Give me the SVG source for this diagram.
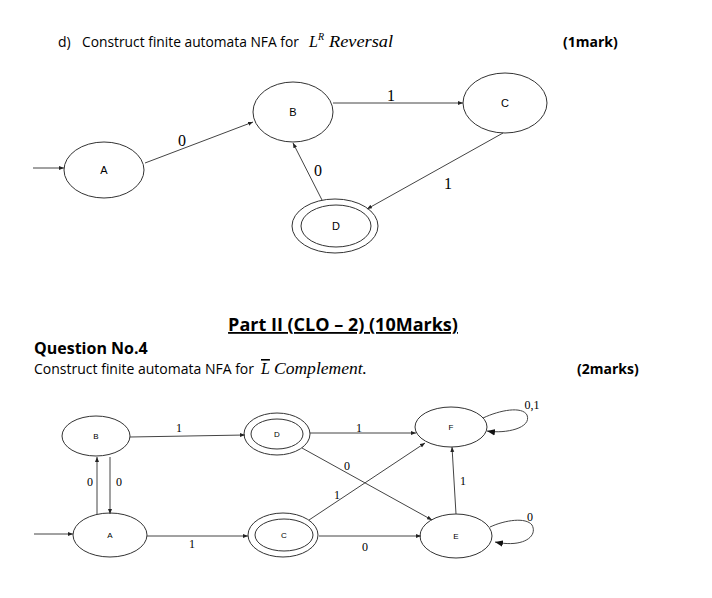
<svg xmlns="http://www.w3.org/2000/svg" width="712" height="598" viewBox="0 0 712 598">
<style>
.st{fill:none;stroke:#333;stroke-width:1}
.ln{fill:none;stroke:#444;stroke-width:1}
.t{font-family:"Open Sans","Liberation Sans",sans-serif;fill:#000}
.b{font-weight:bold}
.m{font-family:"Liberation Serif",serif;font-style:italic;fill:#000}
.lab{font-family:"Liberation Serif",serif;fill:#000;text-anchor:middle}
.nd{font-family:"Liberation Sans",sans-serif;fill:#000;text-anchor:middle}
</style>
<defs>
<marker id="ah" viewBox="0 0 10 10" refX="10" refY="5" markerWidth="5" markerHeight="5" orient="auto"><path d="M0,1 L10,5 L0,9 Z" fill="#222"/></marker>
<marker id="ah2" viewBox="0 0 10 10" refX="10" refY="5" markerWidth="8" markerHeight="8" orient="auto"><path d="M0,1 L10,5 L0,9 Z" fill="#111"/></marker>
</defs>
<rect width="712" height="598" fill="#fff"/>
<text class="t" x="58" y="47" font-size="14">d)</text>
<text class="t" x="82" y="47" font-size="13.8">Construct finite automata NFA for</text>
<text class="m" x="309" y="47" font-size="16">L</text>
<text class="m" x="318" y="40" font-size="10">R</text>
<text class="m" x="329" y="47" font-size="16" textLength="64" lengthAdjust="spacingAndGlyphs">Reversal</text>
<text class="t b" x="563" y="47" font-size="14">(1mark)</text>

<g id="edges-top">
<line class="ln" x1="33" y1="168" x2="64" y2="168" marker-end="url(#ah)"/>
<line class="ln" x1="145" y1="163" x2="253" y2="122" marker-end="url(#ah)"/>
<line class="ln" x1="333" y1="103" x2="463" y2="103" marker-end="url(#ah)"/>
<line class="ln" x1="503" y1="133" x2="367" y2="209" marker-end="url(#ah)"/>
<line class="ln" x1="322" y1="200" x2="293" y2="143" marker-end="url(#ah)"/>
<text class="lab" x="182" y="146" font-size="16">0</text>
<text class="lab" x="391" y="101" font-size="16">1</text>
<text class="lab" x="448" y="189" font-size="16">1</text>
<text class="lab" x="318" y="176" font-size="16">0</text>
</g>
<g id="tA"><ellipse class="st" cx="104" cy="170" rx="40" ry="28"/><text class="nd" x="104" y="174" font-size="11">A</text></g>
<g id="tB"><ellipse class="st" cx="293" cy="112" rx="40" ry="30"/><text class="nd" x="293" y="116" font-size="11">B</text></g>
<g id="tC"><ellipse class="st" cx="505" cy="103" rx="42" ry="30"/><text class="nd" x="505" y="107" font-size="11">C</text></g>
<g id="tD"><ellipse class="st" cx="335" cy="226" rx="43" ry="27"/><ellipse class="st" cx="336" cy="226" rx="35" ry="21"/><text class="nd" x="336" y="230" font-size="11">D</text></g>

<text class="t b" x="343" y="331" font-size="18" text-anchor="middle" text-decoration="underline">Part II (CLO – 2) (10Marks)</text>
<text class="t b" x="34" y="354" font-size="16">Question No.4</text>
<text class="t" x="34" y="374" font-size="14">Construct finite automata NFA for</text>
<text class="m" x="261" y="374" font-size="16" text-decoration="overline">L</text>
<text class="m" x="274" y="374" font-size="16" textLength="93" lengthAdjust="spacingAndGlyphs">Complement.</text>
<text class="t b" x="577" y="374" font-size="14">(2marks)</text>

<g id="edges-bottom">
<line class="ln" x1="34" y1="534" x2="73" y2="534" marker-end="url(#ah)"/>
<line class="ln" x1="97" y1="514" x2="97" y2="457" marker-end="url(#ah)"/>
<line class="ln" x1="110" y1="457" x2="110" y2="514" marker-end="url(#ah)"/>
<line class="ln" x1="130" y1="437" x2="245" y2="435" marker-end="url(#ah)"/>
<line class="ln" x1="147" y1="536" x2="248" y2="536" marker-end="url(#ah)"/>
<line class="ln" x1="310" y1="433" x2="416" y2="433" marker-end="url(#ah)"/>
<line class="ln" x1="302" y1="448" x2="432" y2="520" marker-end="url(#ah)"/>
<line class="ln" x1="309" y1="520" x2="425" y2="443" marker-end="url(#ah)"/>
<line class="ln" x1="319" y1="536" x2="421" y2="536" marker-end="url(#ah)"/>
<line class="ln" x1="456" y1="514" x2="452" y2="447" marker-end="url(#ah)"/>
<path class="ln" d="M483,418 C500,410 522,406 527,415 C532,428 506,434 487,431" marker-end="url(#ah2)"/>
<path class="ln" d="M490,527 C505,520 526,517 532,525 C538,536 524,548 495,542" marker-end="url(#ah2)"/>
<text class="lab" x="90" y="486" font-size="12">0</text>
<text class="lab" x="119" y="486" font-size="12">0</text>
<text class="lab" x="179" y="432" font-size="12">1</text>
<text class="lab" x="192" y="548" font-size="12">1</text>
<text class="lab" x="359" y="432" font-size="12">1</text>
<text class="lab" x="347" y="470" font-size="12">0</text>
<text class="lab" x="337" y="499" font-size="12">1</text>
<text class="lab" x="365" y="551" font-size="12">0</text>
<text class="lab" x="463" y="485" font-size="12">1</text>
<text class="lab" x="532" y="409" font-size="12">0,1</text>
<text class="lab" x="530" y="521" font-size="12">0</text>
</g>
<g id="bB"><ellipse class="st" cx="96" cy="436" rx="34" ry="20"/><text class="nd" x="96" y="439" font-size="8">B</text></g>
<g id="bA"><ellipse class="st" cx="110" cy="535" rx="37" ry="22"/><text class="nd" x="110" y="538" font-size="8">A</text></g>
<g id="bD"><ellipse class="st" cx="277" cy="434" rx="33" ry="21"/><ellipse class="st" cx="277" cy="434" rx="26" ry="15"/><text class="nd" x="277" y="437" font-size="8">D</text></g>
<g id="bC"><ellipse class="st" cx="283" cy="535" rx="35" ry="22"/><ellipse class="st" cx="284" cy="535" rx="29" ry="16"/><text class="nd" x="284" y="538" font-size="8">C</text></g>
<g id="bF"><ellipse class="st" cx="451" cy="427" rx="36" ry="20"/><text class="nd" x="451" y="430" font-size="8">F</text></g>
<g id="bE"><ellipse class="st" cx="456" cy="536" rx="36" ry="22"/><text class="nd" x="456" y="539" font-size="8">E</text></g>
</svg>
